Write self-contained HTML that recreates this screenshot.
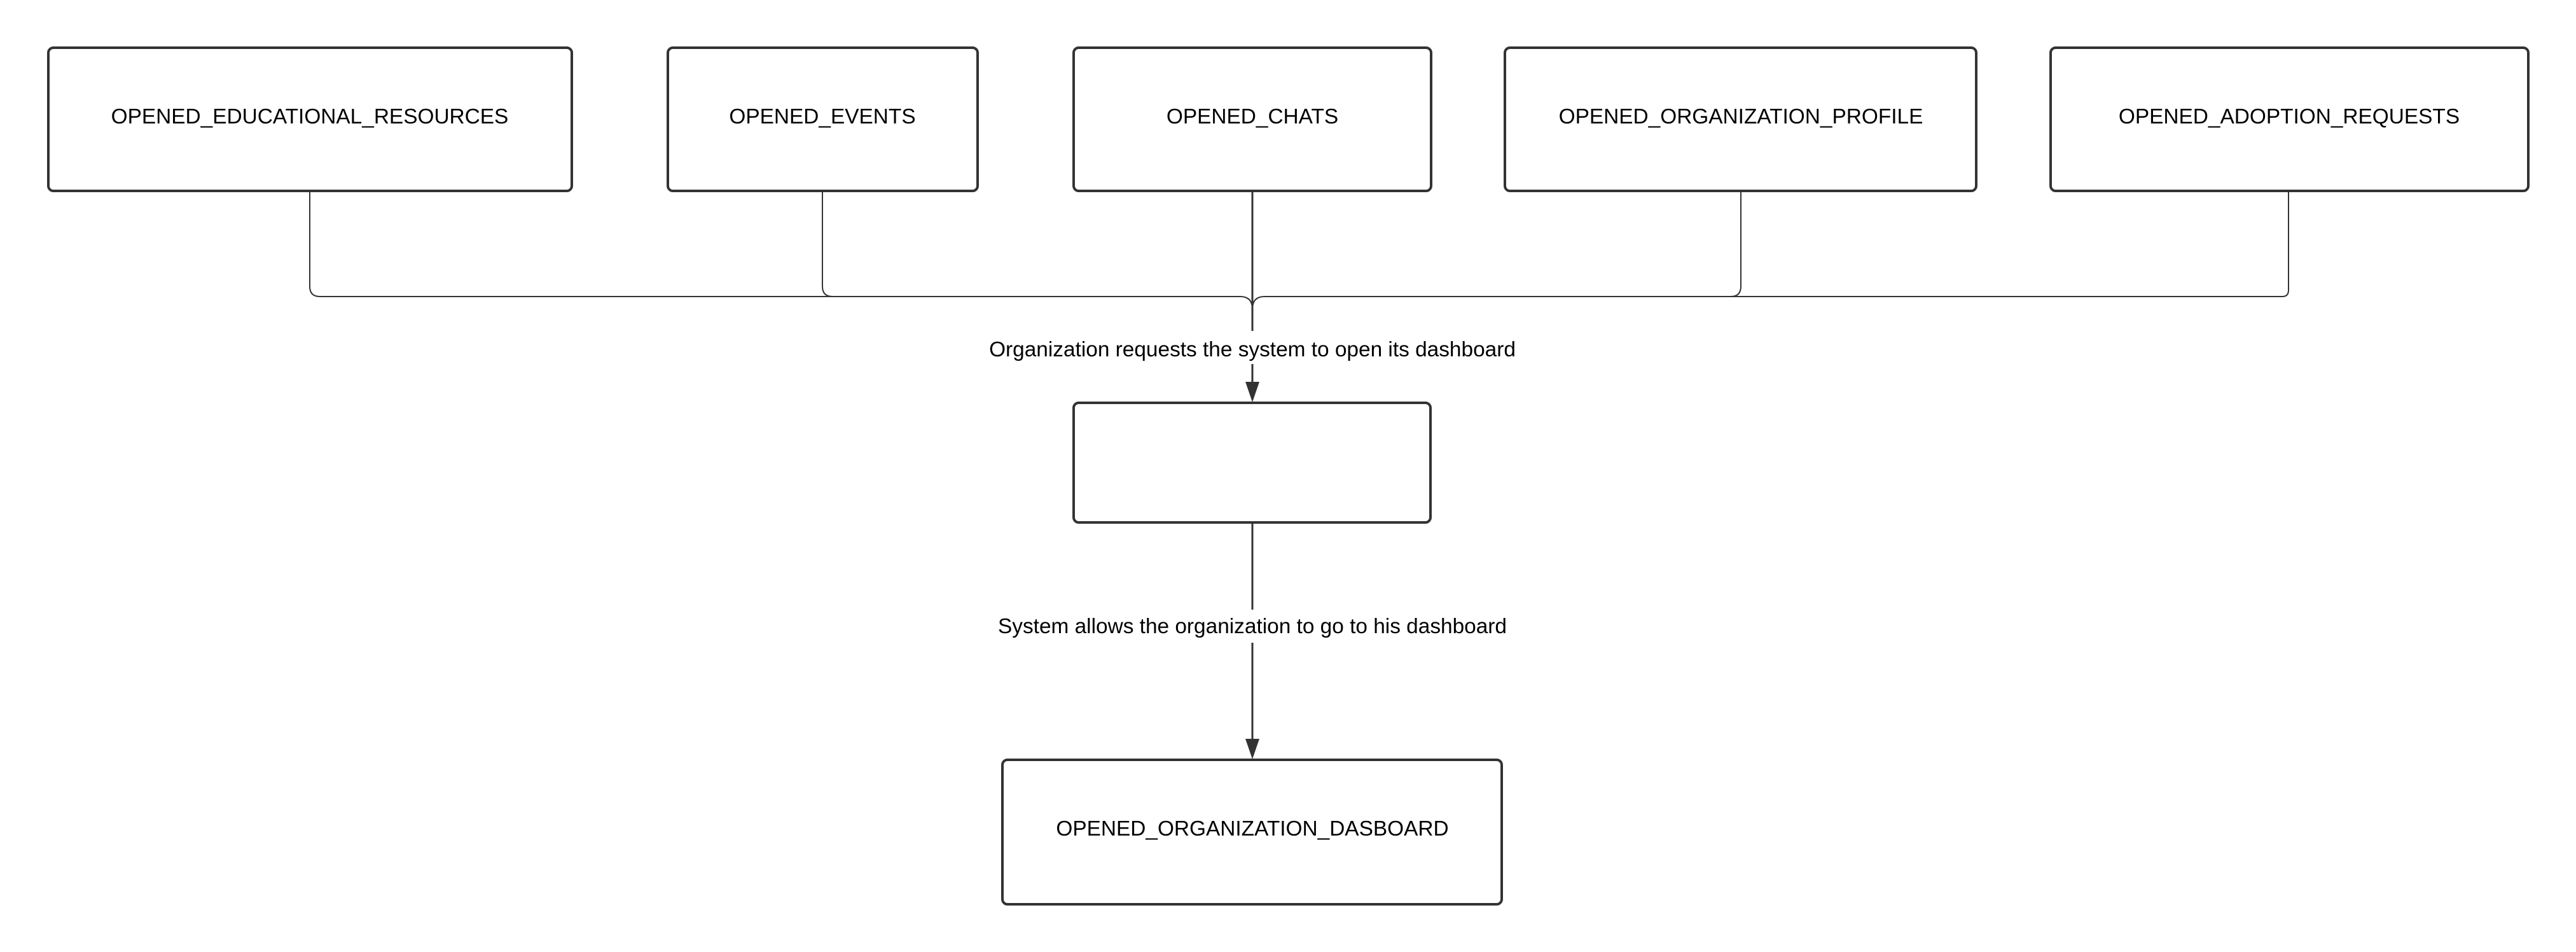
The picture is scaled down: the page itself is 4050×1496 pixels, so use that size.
<!DOCTYPE html>
<html><head><meta charset="utf-8"><style>
html,body{margin:0;padding:0;background:#fff;}
svg{display:block;}
text{font-family:"Liberation Sans",sans-serif;font-size:33.4px;fill:#000;}
</style></head><body>
<svg width="4050" height="1496" viewBox="0 0 4050 1496" xmlns="http://www.w3.org/2000/svg">
<g fill="#fff" stroke="#333" stroke-width="4">
<rect x="76" y="75" width="823" height="225" rx="8"/>
<rect x="1050" y="75" width="487" height="225" rx="8"/>
<rect x="1688" y="75" width="562" height="225" rx="8"/>
<rect x="2366" y="75" width="741" height="225" rx="8"/>
<rect x="3224" y="75" width="751" height="225" rx="8"/>
<rect x="1688" y="633" width="561" height="188" rx="8"/>
<rect x="1576" y="1194" width="785" height="227" rx="8"/>
</g>
<g fill="none" stroke="#333" stroke-width="2">
<path d="M487 302 V450 Q487 466 503 466 H1950 Q1969 466 1969 486"/>
<path d="M1293 302 V450 Q1293 466 1309 466"/>
<path d="M3598 302 V456 Q3598 466 3588 466 H1988 Q1969 466 1969 486"/>
<path d="M2737 302 V450 Q2737 466 2721 466"/>
</g>
<g stroke="#333" stroke-width="3">
<line x1="1969" y1="302" x2="1969" y2="520"/>
<line x1="1969" y1="572" x2="1969" y2="605"/>
<line x1="1969" y1="823" x2="1969" y2="958"/>
<line x1="1969" y1="1010" x2="1969" y2="1165"/>
</g>
<g fill="#333">
<polygon points="1958,600 1980,600 1969,632"/>
<polygon points="1958,1161 1980,1161 1969,1193"/>
</g>
<g text-anchor="middle">
<text x="487" y="194">OPENED_EDUCATIONAL_RESOURCES</text>
<text x="1293" y="194">OPENED_EVENTS</text>
<text x="1969" y="194">OPENED_CHATS</text>
<text x="2737" y="194">OPENED_ORGANIZATION_PROFILE</text>
<text x="3599" y="194">OPENED_ADOPTION_REQUESTS</text>
<text x="1969" y="560">Organization requests the system to open its dashboard</text>
<text x="1969" y="995">System allows the organization to go to his dashboard</text>
<text x="1969" y="1313">OPENED_ORGANIZATION_DASBOARD</text>
</g>
</svg>
</body></html>
